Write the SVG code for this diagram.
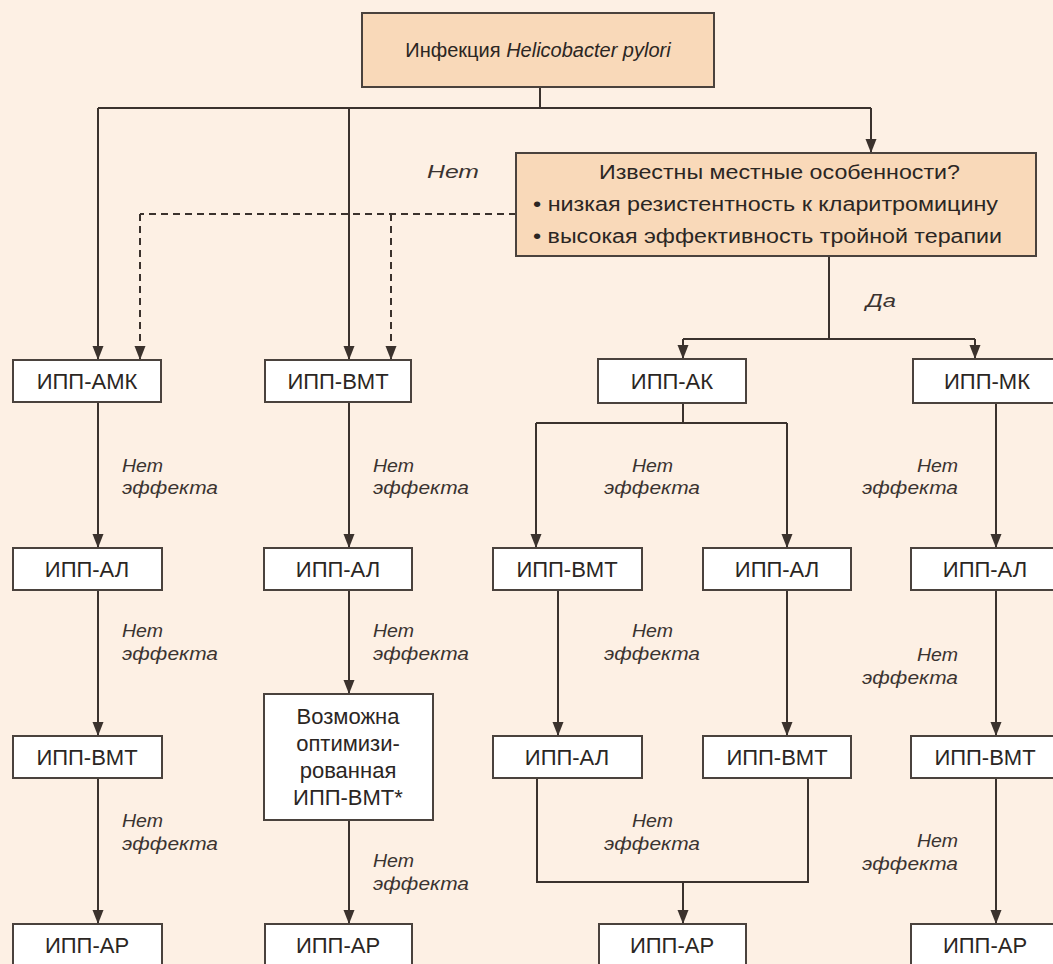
<svg xmlns="http://www.w3.org/2000/svg" width="1053" height="964" viewBox="0 0 1053 964">
<defs>
<marker id="arr" markerUnits="userSpaceOnUse" viewBox="0 0 14 12" markerWidth="14" markerHeight="12" refX="14" refY="6" orient="auto">
<path d="M0,0.5 L14,6 L0,11.5 z" fill="#3b322d"/>
</marker>
<style>
.bg{fill:#fdf0e4}
.box{fill:#ffffff;stroke:#4a423d;stroke-width:2}
.obox{fill:#f9d9b9;stroke:#4a423d;stroke-width:2}
.ln{fill:none;stroke:#3b322d;stroke-width:2}
.ar{marker-end:url(#arr)}
.dash{stroke-dasharray:7 5}
.lbl{font-family:"Liberation Sans",Arial,sans-serif;font-size:22px;fill:#2b2623;text-anchor:middle}
.dt{font-family:"Liberation Sans",Arial,sans-serif;font-size:20px;fill:#2b2623}
.it{font-family:"Liberation Sans",Arial,sans-serif;font-size:18px;font-style:italic;fill:#3a3330}
.mid{text-anchor:middle}
.end{text-anchor:end}
</style>
</defs>
<rect class="bg" x="0" y="0" width="1053" height="964"/>

<g id="connectors">
<path class="ln" d="M540,87 V108 M98,108 H871"/>
<path class="ln ar" d="M98,108 V360"/>
<path class="ln ar" d="M349,108 V360"/>
<path class="ln ar" d="M871,108 V153"/>
<path class="ln dash" d="M516,214 H140"/>
<path class="ln dash ar" d="M140,214 V360"/>
<path class="ln dash ar" d="M391,214 V360"/>
<path class="ln" d="M829,256 V339 M683,339 H975"/>
<path class="ln ar" d="M683,339 V359"/>
<path class="ln ar" d="M975,339 V359"/>
<path class="ln ar" d="M98,402 V548"/>
<path class="ln ar" d="M98,590 V736"/>
<path class="ln ar" d="M98,778 V924"/>
<path class="ln ar" d="M349,402 V548"/>
<path class="ln ar" d="M349,590 V694"/>
<path class="ln ar" d="M349,820 V924"/>
<path class="ln" d="M683,403 V423 M536,423 H787"/>
<path class="ln ar" d="M536,423 V548"/>
<path class="ln ar" d="M787,423 V548"/>
<path class="ln ar" d="M558,590 V736"/>
<path class="ln ar" d="M787,590 V736"/>
<path class="ln" d="M537,778 V882 H808 V778"/>
<path class="ln ar" d="M683,882 V924"/>
<path class="ln ar" d="M996,402 V548"/>
<path class="ln ar" d="M996,590 V736"/>
<path class="ln ar" d="M996,778 V924"/>
</g>

<g id="edge-labels">
<text class="it" x="427" y="178" textLength="52" lengthAdjust="spacingAndGlyphs">Нет</text>
<text class="it" x="866" y="307" textLength="30" lengthAdjust="spacingAndGlyphs">Да</text>
<text class="it" x="122" y="472" textLength="41" lengthAdjust="spacingAndGlyphs">Нет</text>
<text class="it" x="122" y="494" textLength="96" lengthAdjust="spacingAndGlyphs">эффекта</text>
<text class="it" x="122" y="637" textLength="41" lengthAdjust="spacingAndGlyphs">Нет</text>
<text class="it" x="122" y="660" textLength="96" lengthAdjust="spacingAndGlyphs">эффекта</text>
<text class="it" x="122" y="827" textLength="41" lengthAdjust="spacingAndGlyphs">Нет</text>
<text class="it" x="122" y="850" textLength="96" lengthAdjust="spacingAndGlyphs">эффекта</text>
<text class="it" x="373" y="472" textLength="41" lengthAdjust="spacingAndGlyphs">Нет</text>
<text class="it" x="373" y="494" textLength="96" lengthAdjust="spacingAndGlyphs">эффекта</text>
<text class="it" x="373" y="637" textLength="41" lengthAdjust="spacingAndGlyphs">Нет</text>
<text class="it" x="373" y="660" textLength="96" lengthAdjust="spacingAndGlyphs">эффекта</text>
<text class="it" x="373" y="867" textLength="41" lengthAdjust="spacingAndGlyphs">Нет</text>
<text class="it" x="373" y="890" textLength="96" lengthAdjust="spacingAndGlyphs">эффекта</text>
<text class="it" x="632" y="472" textLength="41" lengthAdjust="spacingAndGlyphs">Нет</text>
<text class="it" x="604" y="494" textLength="96" lengthAdjust="spacingAndGlyphs">эффекта</text>
<text class="it" x="632" y="637" textLength="41" lengthAdjust="spacingAndGlyphs">Нет</text>
<text class="it" x="604" y="660" textLength="96" lengthAdjust="spacingAndGlyphs">эффекта</text>
<text class="it" x="632" y="827" textLength="41" lengthAdjust="spacingAndGlyphs">Нет</text>
<text class="it" x="604" y="850" textLength="96" lengthAdjust="spacingAndGlyphs">эффекта</text>
<text class="it" x="917" y="472" textLength="41" lengthAdjust="spacingAndGlyphs">Нет</text>
<text class="it" x="862" y="494" textLength="96" lengthAdjust="spacingAndGlyphs">эффекта</text>
<text class="it" x="917" y="661" textLength="41" lengthAdjust="spacingAndGlyphs">Нет</text>
<text class="it" x="862" y="684" textLength="96" lengthAdjust="spacingAndGlyphs">эффекта</text>
<text class="it" x="917" y="847" textLength="41" lengthAdjust="spacingAndGlyphs">Нет</text>
<text class="it" x="862" y="870" textLength="96" lengthAdjust="spacingAndGlyphs">эффекта</text>
</g>

<g id="n-start">
<rect class="obox" x="362" y="13" width="352" height="74"/>
<text class="dt mid" x="538" y="57">Инфекция <tspan font-style="italic">Helicobacter pylori</tspan></text>
</g>
<g id="n-decision">
<rect class="obox" x="516" y="153" width="520" height="103"/>
<text class="dt" x="599" y="179" textLength="361" lengthAdjust="spacingAndGlyphs">Известны местные особенности?</text>
<text class="dt" x="533" y="211" textLength="465" lengthAdjust="spacingAndGlyphs">• низкая резистентность к кларитромицину</text>
<text class="dt" x="533" y="243" textLength="469" lengthAdjust="spacingAndGlyphs">• высокая эффективность тройной терапии</text>
</g>

<g id="n-c1r1"><rect class="box" x="13" y="360" width="148" height="42"/><text class="lbl" x="87" y="389">ИПП-АМК</text></g>
<g id="n-c2r1"><rect class="box" x="265" y="360" width="146" height="42"/><text class="lbl" x="338" y="389">ИПП-ВМТ</text></g>
<g id="n-c3r1"><rect class="box" x="598" y="359" width="148" height="44"/><text class="lbl" x="672" y="389">ИПП-АК</text></g>
<g id="n-c4r1"><rect class="box" x="913" y="359" width="148" height="44"/><text class="lbl" x="987" y="389">ИПП-МК</text></g>

<g id="n-c1r2"><rect class="box" x="13" y="548" width="149" height="42"/><text class="lbl" x="87" y="577">ИПП-АЛ</text></g>
<g id="n-c2r2"><rect class="box" x="264" y="548" width="148" height="42"/><text class="lbl" x="338" y="577">ИПП-АЛ</text></g>
<g id="n-c3ar2"><rect class="box" x="493" y="548" width="149" height="42"/><text class="lbl" x="567" y="577">ИПП-ВМТ</text></g>
<g id="n-c3br2"><rect class="box" x="703" y="548" width="148" height="42"/><text class="lbl" x="777" y="577">ИПП-АЛ</text></g>
<g id="n-c4r2"><rect class="box" x="911" y="548" width="149" height="42"/><text class="lbl" x="985" y="577">ИПП-АЛ</text></g>

<g id="n-c1r3"><rect class="box" x="13" y="736" width="149" height="42"/><text class="lbl" x="87" y="765">ИПП-ВМТ</text></g>
<g id="n-c2r3"><rect class="box" x="264" y="694" width="169" height="126"/>
<text class="lbl" x="348" y="724">Возможна</text>
<text class="lbl" x="348" y="751">оптимизи-</text>
<text class="lbl" x="348" y="778">рованная</text>
<text class="lbl" x="348" y="805">ИПП-ВМТ*</text></g>
<g id="n-c3ar3"><rect class="box" x="493" y="736" width="149" height="42"/><text class="lbl" x="567" y="765">ИПП-АЛ</text></g>
<g id="n-c3br3"><rect class="box" x="703" y="736" width="148" height="42"/><text class="lbl" x="777" y="765">ИПП-ВМТ</text></g>
<g id="n-c4r3"><rect class="box" x="911" y="736" width="149" height="42"/><text class="lbl" x="985" y="765">ИПП-ВМТ</text></g>

<g id="n-c1r4"><rect class="box" x="13" y="924" width="149" height="44"/><text class="lbl" x="87" y="953">ИПП-АР</text></g>
<g id="n-c2r4"><rect class="box" x="265" y="924" width="147" height="44"/><text class="lbl" x="338" y="953">ИПП-АР</text></g>
<g id="n-c3r4"><rect class="box" x="599" y="924" width="147" height="44"/><text class="lbl" x="672" y="953">ИПП-АР</text></g>
<g id="n-c4r4"><rect class="box" x="911" y="924" width="149" height="44"/><text class="lbl" x="985" y="953">ИПП-АР</text></g>
</svg>
